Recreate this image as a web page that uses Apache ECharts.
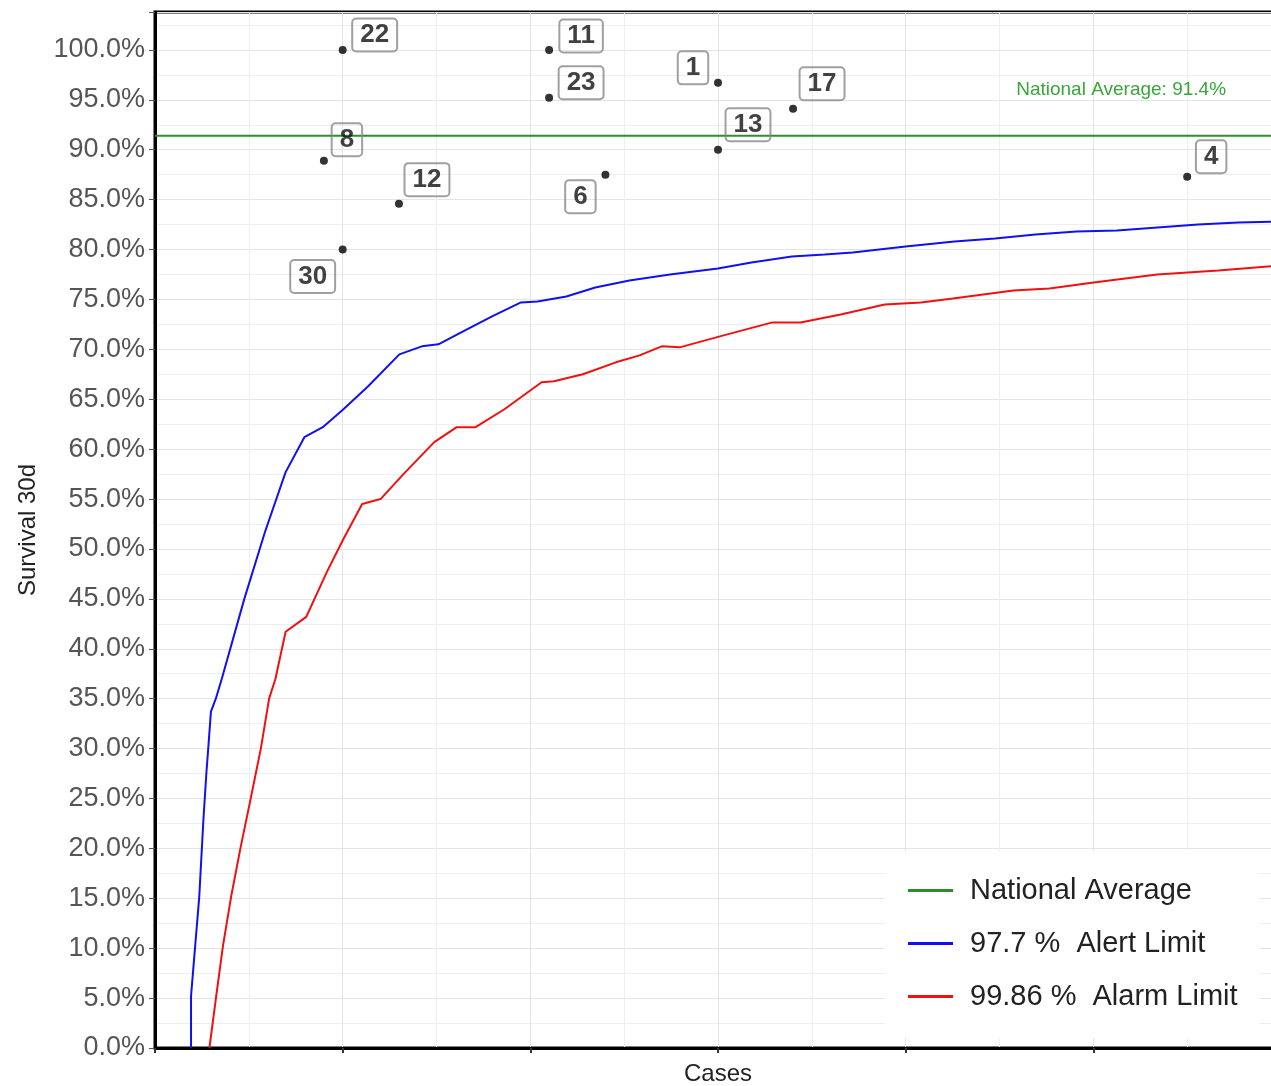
<!DOCTYPE html>
<html>
<head>
<meta charset="utf-8">
<script src="https://cdn.jsdelivr.net/npm/echarts@6/dist/echarts.min.js"></script>
<style>
html,body{margin:0;padding:0;background:#fff;}
#chart{width:1271px;height:1086px;}
</style>
</head>
<body>
<div id="chart"></div>
<script>
// ---- data ----
const nationalAverage = 91.4;
const xRange = [0, 300];
const alertLimit = [[9.6,0],[9.6,5.2],[10.7,10.2],[11.8,15.2],[12.9,22.9],[13.7,27.6],[14.3,30.6],[14.9,33.7],[16.2,35],[17.8,37],[23.8,45],[29.3,51.7],[34.8,57.7],[39.8,61.2],[44.7,62.2],[50.2,64],[56.8,66.3],[65.1,69.5],[71.1,70.3],[75.5,70.5],[82.1,71.8],[89.8,73.3],[97.5,74.7],[101.9,74.8],[109.6,75.3],[117.3,76.2],[126.4,76.9],[137.2,77.5],[150,78.1],[158.9,78.7],[169.7,79.3],[178.4,79.5],[185.9,79.7],[200,80.3],[213,80.8],[223.8,81.1],[234.6,81.5],[245.5,81.8],[256.3,81.9],[267.1,82.2],[277.9,82.5],[288.7,82.7],[300,82.8]];
const alarmLimit = [[14.5,0],[16.2,4.9],[18.1,10.2],[20.3,15.2],[22.7,19.9],[25.5,25],[28.2,30],[30.4,35],[32.1,37],[34.8,41.7],[40.3,43.2],[45.8,47.7],[50.2,51],[55.2,54.5],[60.1,55],[66.2,57.5],[74.4,60.7],[80.4,62.2],[85.4,62.2],[93.1,64],[103,66.7],[106.3,66.8],[114,67.5],[122.8,68.7],[129.1,69.4],[135,70.3],[139.8,70.2],[150.5,71.3],[164.5,72.7],[172,72.7],[182.7,73.5],[194.4,74.5],[204.1,74.7],[212.6,75.1],[228.7,75.9],[238.3,76.1],[250.1,76.7],[267,77.5],[283.3,77.9],[300,78.4]];
const unitIds   = ['22','11','23','1','17','13','8','12','6','30','4'];
const unitCases = [50, 105, 105, 150, 170, 150, 45, 65, 120, 50, 275];
const unitSurv  = [100, 100, 95.2, 96.7, 94.1, 90.0, 88.9, 84.6, 87.5, 80.0, 87.3];
const seriesNames = ['National Average', '97.7 %  Alert Limit', '99.86 %  Alarm Limit'];

// ---- styling (label placement) ----
const labelOffsets = {
  '22':[32,-15], '11':[32,-14], '23':[32,-15], '1':[-25,-15], '17':[29,-25],
  '13':[30,-25], '8':[23,-21], '12':[28,-24], '6':[-25,22], '30':[-30,27], '4':[24,-20]
};

const points = unitIds.map((id, i) => ({
  value: [unitCases[i], unitSurv[i]],
  name: id,
  label: { offset: labelOffsets[id] }
}));

const chart = echarts.init(document.getElementById('chart'));
const FONT = '"Liberation Sans", Arial, sans-serif';
chart.setOption({
  animation: false,
  backgroundColor: '#fff',
  grid: {
    left: 155, top: 12, width: 1126, height: 1036,
    outerBoundsMode: 'none', containLabel: false,
    show: true, borderColor: '#000', borderWidth: 3, backgroundColor: '#fff'
  },
  xAxis: {
    type: 'value', min: xRange[0], max: xRange[1], interval: 50,
    name: 'Cases', nameLocation: 'middle', nameGap: 14,
    nameTextStyle: { fontFamily: FONT, fontSize: 24, color: '#222' },
    axisLine: { show: true, onZero: false, lineStyle: { color: '#000', width: 3 } },
    axisTick: { show: true, length: 5, lineStyle: { color: '#333', width: 2 } },
    axisLabel: { show: false },
    splitLine: { show: true, lineStyle: { color: '#e4e4e4', width: 1 } },
    minorTick: { show: false, splitNumber: 2 },
    minorSplitLine: { show: true, lineStyle: { color: '#eeeeee', width: 1 } }
  },
  yAxis: {
    type: 'value', min: 0, max: 103.8, interval: 5,
    name: 'Survival 30d', nameLocation: 'middle', nameRotate: 90, nameGap: 115,
    nameTextStyle: { fontFamily: FONT, fontSize: 24, color: '#222' },
    axisLine: { show: true, lineStyle: { color: '#000', width: 3 } },
    axisTick: { show: true, length: 6, lineStyle: { color: '#555', width: 1 } },
    axisLabel: {
      fontFamily: FONT, fontSize: 27, color: '#555', margin: 10,
      formatter: v => (Math.abs(v % 5) < 1e-6 ? v.toFixed(1) + '%' : '')
    },
    splitLine: { show: true, lineStyle: { color: '#e4e4e4', width: 1 } },
    minorTick: { show: false, splitNumber: 2 },
    minorSplitLine: { show: true, lineStyle: { color: '#eeeeee', width: 1 } }
  },
  legend: {
    data: seriesNames,
    orient: 'vertical', left: 885, top: 851,
    padding: [24, 22, 26, 23],
    backgroundColor: '#fff',
    icon: 'rect', itemWidth: 45, itemHeight: 3, itemGap: 22,
    textStyle: { fontFamily: FONT, fontSize: 29, color: '#222', lineHeight: 31, padding: [0, 0, 0, 12] }
  },
  series: [
    {
      name: seriesNames[0], type: 'line', showSymbol: false, symbol: 'none',
      data: [[xRange[0], nationalAverage], [xRange[1], nationalAverage]],
      lineStyle: { color: '#2b8f2b', width: 2 }, itemStyle: { color: '#2b8f2b' },
      z: 3,
      markPoint: {
        symbol: 'circle', symbolSize: 0, silent: true,
        data: [{ coord: [257.4, 96] }],
        label: {
          show: true, position: 'inside', fontFamily: FONT, fontSize: 19, color: '#3aa53a',
          formatter: () => 'National Average: ' + nationalAverage.toFixed(1) + '%'
        }
      }
    },
    {
      name: seriesNames[1], type: 'line', showSymbol: false, symbol: 'none',
      data: alertLimit, lineStyle: { color: '#1010f0', width: 2 }, itemStyle: { color: '#1010f0' }, z: 2
    },
    {
      name: seriesNames[2], type: 'line', showSymbol: false, symbol: 'none',
      data: alarmLimit, lineStyle: { color: '#f01010', width: 2 }, itemStyle: { color: '#f01010' }, z: 2
    },
    {
      name: 'Units', type: 'scatter', symbol: 'circle', symbolSize: 8,
      itemStyle: { color: '#000' }, data: points, z: 4,
      label: {
        show: true, position: 'inside',
        formatter: p => p.name,
        fontFamily: FONT, fontSize: 26, fontWeight: 'bold', color: '#111',
        borderColor: '#888', borderWidth: 1, borderRadius: 4, padding: [4, 8, 3, 8],
        backgroundColor: 'rgba(255,255,255,0)'
      }
    }
  ]
});
</script>
</body>
</html>
